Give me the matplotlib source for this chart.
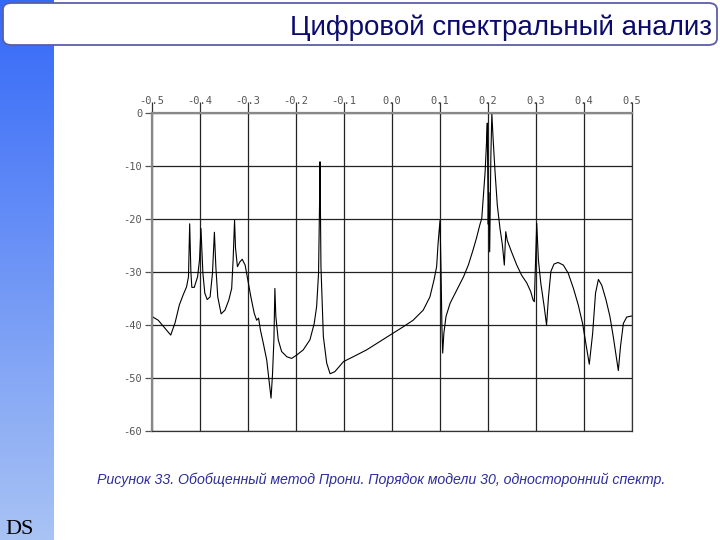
import matplotlib.pyplot as plt
import numpy as np
from matplotlib.patches import FancyBboxPatch

# Нормированная частота и спектр (дБ)
freq = [-0.500, -0.487, -0.473, -0.461, -0.452, -0.443, -0.435, -0.428, -0.424, -0.4215,
        -0.419, -0.417, -0.412, -0.405, -0.401, -0.398, -0.394, -0.390, -0.385, -0.379,
        -0.374, -0.370, -0.367, -0.363, -0.356, -0.348, -0.340, -0.334, -0.331, -0.328,
        -0.326, -0.322, -0.317, -0.312, -0.306, -0.301, -0.294, -0.287, -0.282, -0.278,
        -0.274, -0.268, -0.261, -0.256, -0.252, -0.249, -0.246, -0.244, -0.242, -0.237,
        -0.230, -0.219, -0.209, -0.199, -0.185, -0.171, -0.162, -0.157, -0.153, -0.151,
        -0.150, -0.148, -0.143, -0.136, -0.129, -0.119, -0.101, -0.081, -0.053, -0.025,
        0.001, 0.024, 0.044, 0.065, 0.079, 0.0875, 0.093, 0.096, 0.100, 0.102,
        0.104, 0.1056, 0.108, 0.1125, 0.121, 0.135, 0.149, 0.159, 0.169, 0.176,
        0.183, 0.187, 0.194, 0.197, 0.1985, 0.2005, 0.2015, 0.2035, 0.206, 0.208,
        0.2106, 0.2146, 0.2194, 0.225, 0.230, 0.234, 0.237, 0.240, 0.249, 0.260,
        0.270, 0.281, 0.289, 0.294, 0.2965, 0.299, 0.3015, 0.305, 0.310, 0.317,
        0.322, 0.326, 0.331, 0.3375, 0.346, 0.357, 0.367, 0.378, 0.388, 0.397,
        0.404, 0.411, 0.418, 0.424, 0.430, 0.437, 0.446, 0.454, 0.461, 0.4715,
        0.476, 0.482, 0.489, 0.4994]
spec_db = [-38.4, -39.1, -40.6, -41.9, -39.6, -36.2, -34.3, -32.8, -30.9, -20.9,
           -30.0, -32.9, -32.9, -30.9, -27.7, -21.8, -30.2, -34.0, -35.2, -34.7,
           -30.2, -22.5, -29.0, -34.7, -37.9, -37.2, -35.3, -33.1, -27.7, -20.2,
           -25.5, -29.0, -28.1, -27.6, -28.7, -31.2, -34.7, -37.8, -39.1, -38.7,
           -41.0, -43.5, -46.6, -50.7, -53.8, -49.4, -42.8, -33.1, -38.4, -42.8,
           -45.0, -46.0, -46.3, -45.7, -44.7, -42.8, -39.7, -36.5, -30.2, -17.4,
           -9.2, -29.0, -42.2, -47.2, -49.2, -48.8, -46.9, -46.0, -44.7, -43.1,
           -41.6, -40.3, -39.1, -37.2, -34.7, -31.5, -29.0, -24.6, -20.3, -29.0,
           -40.3, -45.3, -41.6, -38.4, -35.9, -33.4, -30.9, -28.7, -25.8, -23.6,
           -21.1, -19.9, -11.1, -5.4, -1.9, -21.0, -15.0, -26.2, -8.0, -0.1,
           -4.8, -11.0, -17.4, -21.8, -24.9, -28.7, -22.4, -24.0, -26.2, -28.7,
           -30.6, -32.1, -33.7, -35.3, -35.6, -28.0, -20.8, -27.7, -32.1, -36.5,
           -40.0, -34.7, -29.9, -28.5, -28.2, -28.7, -30.2, -33.1, -36.2, -39.7,
           -43.5, -47.4, -41.6, -34.0, -31.4, -32.5, -35.3, -38.4, -42.2, -48.6,
           -44.1, -39.7, -38.5, -38.3]

x_ticks = [-0.5, -0.4, -0.3, -0.2, -0.1, 0.0, 0.1, 0.2, 0.3, 0.4, 0.5]
y_ticks = [0, -10, -20, -30, -40, -50, -60]

title = 'Цифровой спектральный анализ'
caption = 'Рисунок 33. Обобщенный метод Прони. Порядок модели 30, односторонний спектр.'

fig = plt.figure(figsize=(7.2, 5.4), dpi=100)

# рамка заголовка (заливка)
box = FancyBboxPatch((3 / 720, 1 - 45 / 540), 714 / 720, 42 / 540,
                     boxstyle='round,pad=0,rounding_size=0.012',
                     transform=fig.transFigure, facecolor='white', edgecolor='none')
fig.patches.append(box)

# синяя полоса слева с градиентом
bar_ax = fig.add_axes([0, 0, 54 / 720, 1])
grad = np.linspace(0, 1, 256).reshape(-1, 1)
bar_ax.imshow(grad, aspect='auto', extent=[0, 1, 0, 1], origin='upper',
              cmap=plt.matplotlib.colors.LinearSegmentedColormap.from_list(
                  'bar', ['#3468f8', '#a9c3f4']))
bar_ax.axis('off')

box2 = FancyBboxPatch((3 / 720, 1 - 45 / 540), 714 / 720, 42 / 540,
                      boxstyle='round,pad=0,rounding_size=0.012',
                      transform=fig.transFigure, facecolor='none',
                      edgecolor='#5a5ea6', linewidth=1.3, zorder=5)
fig.patches.append(box2)
fig.text(712 / 720, 1 - 28 / 540, title, ha='right', va='center',
         fontsize=20, color='#0b0b6e', family='Liberation Sans')

# график
ax = fig.add_axes([152 / 720, 109 / 540, 480 / 720, 318 / 540])
ax.plot(freq, spec_db, color='black', linewidth=0.8)
ax.set_xlim(-0.5, 0.5)
ax.set_ylim(-60, 0)
ax.set_xticks(x_ticks)
ax.set_xticklabels([f'{t:.1f}' for t in x_ticks])
ax.set_yticks(y_ticks)
ax.set_yticklabels([str(t) for t in y_ticks])
ax.xaxis.tick_top()
ax.tick_params(axis='x', direction='out', length=8, width=0.9, color='#333333',
               pad=-3, labelsize=7.5, labelcolor='#555555')
ax.tick_params(axis='y', direction='out', length=5, width=0.9, color='#555555',
               pad=2, labelsize=7.5, labelcolor='#555555')
for lab in ax.get_xticklabels() + ax.get_yticklabels():
    lab.set_family('DejaVu Sans Mono')
ax.grid(True, color='#222222', linewidth=0.9)
for side in ['left', 'top']:
    ax.spines[side].set_color('#888888')
    ax.spines[side].set_linewidth(1.6)
for side in ['right', 'bottom']:
    ax.spines[side].set_color('#333333')
    ax.spines[side].set_linewidth(0.9)

fig.text(97 / 720, 1 - 480 / 540, caption, ha='left', va='center',
         fontsize=10.2, style='italic', color='#2d2d9c', family='Liberation Sans')
fig.text(5 / 720, 1 / 540, 'DS', ha='left', va='bottom', fontsize=16,
         color='black', family='Liberation Serif')

fig.savefig('out.png', dpi=100)
